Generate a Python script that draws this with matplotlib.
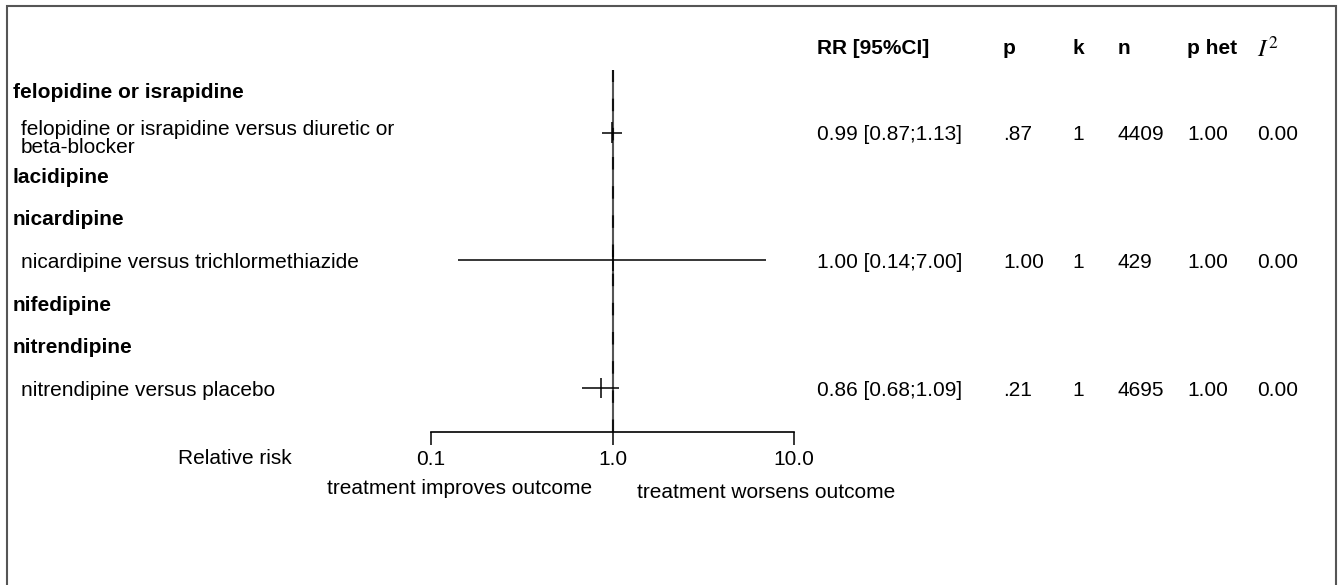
import numpy as np
import matplotlib
matplotlib.use("Agg")
import matplotlib.pyplot as plt
import matplotlib.transforms as mtransforms
from matplotlib.patches import Rectangle

plt.rcParams['font.family'] = ['Liberation Sans', 'DejaVu Sans']
plt.rcParams['font.size'] = 15

# rows of the forest plot (None = group header row)
labels = ["felopidine or israpidine",
          "felopidine or israpidine versus diuretic or\nbeta-blocker",
          "lacidipine",
          "nicardipine",
          "nicardipine versus trichlormethiazide",
          "nifedipine",
          "nitrendipine",
          "nitrendipine versus placebo"]
is_group = [True, False, True, True, False, True, True, False]
rr = [None, 0.99, None, None, 1.00, None, None, 0.86]
rr_lo = [None, 0.87, None, None, 0.14, None, None, 0.68]
rr_hi = [None, 1.13, None, None, 7.00, None, None, 1.09]
p_val = [None, ".87", None, None, "1.00", None, None, ".21"]
k_val = [None, "1", None, None, "1", None, None, "1"]
n_val = [None, "4409", None, None, "429", None, None, "4695"]
p_het = [None, "1.00", None, None, "1.00", None, None, "1.00"]
i2_val = [None, "0.00", None, None, "0.00", None, None, "0.00"]

headers = ["RR [95%CI]", "p", "k", "n", "p het"]
tick_vals = [0.1, 1.0, 10.0]
tick_labels = ["0.1", "1.0", "10.0"]

W, H = 1341, 585
fig = plt.figure(figsize=(W / 100, H / 100), dpi=100)

def fx(px):
    return px / W

def fy(py):
    return 1 - py / H

# forest panel: 0.1 .. 10 on a log axis, rows top to bottom
ax = fig.add_axes([fx(431), fy(432), fx(794) - fx(431), fy(70) - fy(432)])
ax.set_xscale("log")
ax.set_xlim(0.1, 10)
ax.set_ylim(8.03, -0.47)
for s in ["top", "right", "left"]:
    ax.spines[s].set_visible(False)
ax.spines["bottom"].set_linewidth(1.2)
ax.set_yticks([])
ax.xaxis.set_minor_locator(matplotlib.ticker.NullLocator())
ax.set_xticks(tick_vals)
ax.set_xticklabels(tick_labels)
ax.tick_params(axis="x", direction="out", length=9.5, width=1.1, pad=3.5, labelsize=15)
ax.patch.set_visible(False)

# reference line at RR = 1
ax.axvline(1.0, color="#555555", lw=1.5)
ax.axvline(1.0, color="#111111", lw=1.5, ls=(0, (6, 8)))

rows = np.arange(len(labels))
for i in rows:
    if rr[i] is None:
        continue
    ax.hlines(i, rr_lo[i], rr_hi[i], color="black", lw=1.1)
    ax.vlines(rr[i], i - 0.24, i + 0.24, color="black", lw=1.1)

# text columns
tr = mtransforms.blended_transform_factory(fig.transFigure, ax.transData)
off = 0.05
for i in rows:
    if is_group[i]:
        fig.text(fx(13), i + off, labels[i], transform=tr, va="center", fontweight="bold")
    else:
        yy = i + 0.13 if "\n" in labels[i] else i + off
        fig.text(fx(21), yy, labels[i], transform=tr, va="center", linespacing=0.95)
        fig.text(fx(817), i + off, "%.2f [%.2f;%.2f]" % (rr[i], rr_lo[i], rr_hi[i]),
                 transform=tr, va="center")
        fig.text(fx(1003), i + off, p_val[i], transform=tr, va="center")
        fig.text(fx(1072), i + off, k_val[i], transform=tr, va="center")
        fig.text(fx(1118), i + off, n_val[i], transform=tr, va="center")
        fig.text(fx(1187), i + off, p_het[i], transform=tr, va="center")
        fig.text(fx(1257), i + off, i2_val[i], transform=tr, va="center")

head_x = [817, 1003, 1072, 1118, 1187]
for hx, h in zip(head_x, headers):
    fig.text(fx(hx), fy(49), h, va="center", fontweight="bold")
fig.text(fx(1257), fy(49), r"$I^2$", va="center", math_fontfamily="stix", fontsize=18)

fig.text(fx(178), fy(459), "Relative risk", va="center")
fig.text(fx(327), fy(489), "treatment improves outcome", va="center")
fig.text(fx(637), fy(492), "treatment worsens outcome", va="center")

# outer frame (open at the bottom edge)
fig.patches.append(Rectangle((fx(7), fy(600)), fx(1336) - fx(7), fy(6) - fy(600),
                             transform=fig.transFigure, fill=False,
                             edgecolor="#555555", lw=1.5))

fig.savefig("out.png", dpi=100)
